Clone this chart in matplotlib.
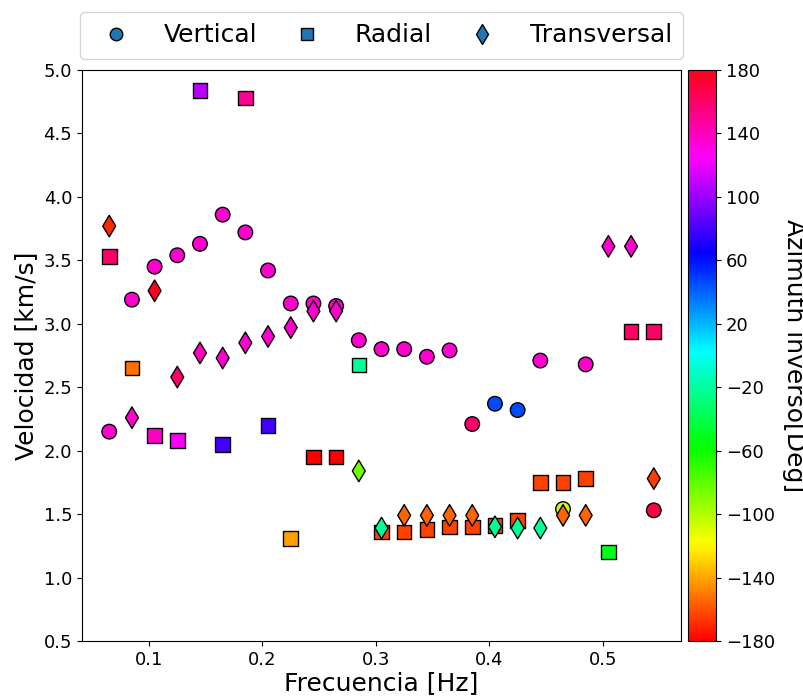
import numpy as np
import matplotlib
matplotlib.use("Agg")
import matplotlib.pyplot as plt

freq = [0.065, 0.085, 0.105, 0.125, 0.145, 0.165, 0.185, 0.205, 0.225, 0.245,
        0.265, 0.285, 0.305, 0.325, 0.345, 0.365, 0.385, 0.405, 0.425, 0.445,
        0.465, 0.485, 0.505, 0.525, 0.545]

vert_freq = [0.065, 0.085, 0.105, 0.125, 0.145, 0.165, 0.185, 0.205, 0.225, 0.245,
             0.265, 0.285, 0.305, 0.325, 0.345, 0.365, 0.385, 0.405, 0.425, 0.445,
             0.465, 0.485, 0.545]
vert_vel = [2.15, 3.19, 3.45, 3.54, 3.63, 3.86, 3.72, 3.42, 3.16, 3.16,
            3.14, 2.87, 2.80, 2.80, 2.74, 2.79, 2.21, 2.37, 2.32, 2.71,
            1.54, 2.68, 1.53]
vert_az = [135, 135, 135, 135, 135, 135, 135, 135, 135, 135,
           135, 135, 135, 135, 135, 135, 160, 45, 45, 135,
           -105, 135, 170]

rad_vel = [3.53, 2.65, 2.12, 2.08, 4.84, 2.05, 4.78, 2.20, 1.31, 1.95,
           1.95, 2.675, 1.36, 1.36, 1.38, 1.40, 1.40, 1.41, 1.45, 1.75,
           1.75, 1.78, 1.20, 2.94, 2.94]
rad_az = [161, -152, 139, 125, 108, 80, 150, 80, -142, -179,
          -179, -22, -164, -164, -164, -164, -164, -164, -164, -164,
          -164, -164, -53, 161, 161]

trans_vel = [3.77, 2.26, 3.26, 2.58, 2.77, 2.73, 2.85, 2.90, 2.97, 3.10,
             3.10, 1.84, 1.39, 1.49, 1.49, 1.49, 1.49, 1.40, 1.39, 1.39,
             1.49, 1.49, 3.61, 3.61, 1.78]
trans_az = [-169, 135, 176, 160, 140, 135, 135, 135, 135, 135,
            135, -83, -22, -156, -156, -156, -156, -22, -22, -22,
            -156, -156, 135, 135, -165]

fig = plt.figure(figsize=(8.04, 6.98), dpi=100)
ax = fig.add_axes([82/804, 1 - 641/698, (681-82)/804, (641-70)/698])
cax = fig.add_axes([688/804, 1 - 641/698, (716-688)/804, (641-70)/698])

kw = dict(cmap="hsv", vmin=-180, vmax=180, edgecolors="black", linewidths=1.0, zorder=3)
sc = ax.scatter(vert_freq, vert_vel, c=vert_az, marker="o", s=110, **kw)
ax.scatter(freq, rad_vel, c=rad_az, marker="s", s=110, **kw)
ax.scatter(freq, trans_vel, c=trans_az, marker="d", s=120, **kw)

ax.set_ylim(0.5, 5.0)
ax.set_yticks(np.arange(0.5, 5.01, 0.5))
ax.tick_params(labelsize=13)
ax.set_xlabel("Frecuencia [Hz]", fontsize=18, labelpad=2)
ax.set_ylabel("Velocidad [km/s]", fontsize=18)

cb = fig.colorbar(sc, cax=cax)
cb.set_ticks(np.arange(-180, 181, 40))
cb.ax.tick_params(labelsize=13)
cb.set_label("Azimuth inverso[Deg]", fontsize=18, rotation=270, labelpad=22)

handles = [
    plt.Line2D([], [], marker="o", color="#1f77b4", markeredgecolor="black", linestyle="none", markersize=9),
    plt.Line2D([], [], marker="s", color="#1f77b4", markeredgecolor="black", linestyle="none", markersize=9),
    plt.Line2D([], [], marker="d", color="#1f77b4", markeredgecolor="black", linestyle="none", markersize=10),
]
ax.legend(handles, ["Vertical", "Radial", "Transversal"], loc="lower center",
          bbox_to_anchor=(0.5, 1.02), ncol=3, fontsize=18, handletextpad=0.9,
          columnspacing=1.0, borderpad=0.45, borderaxespad=0.0)

fig.savefig("out.png", dpi=100)
